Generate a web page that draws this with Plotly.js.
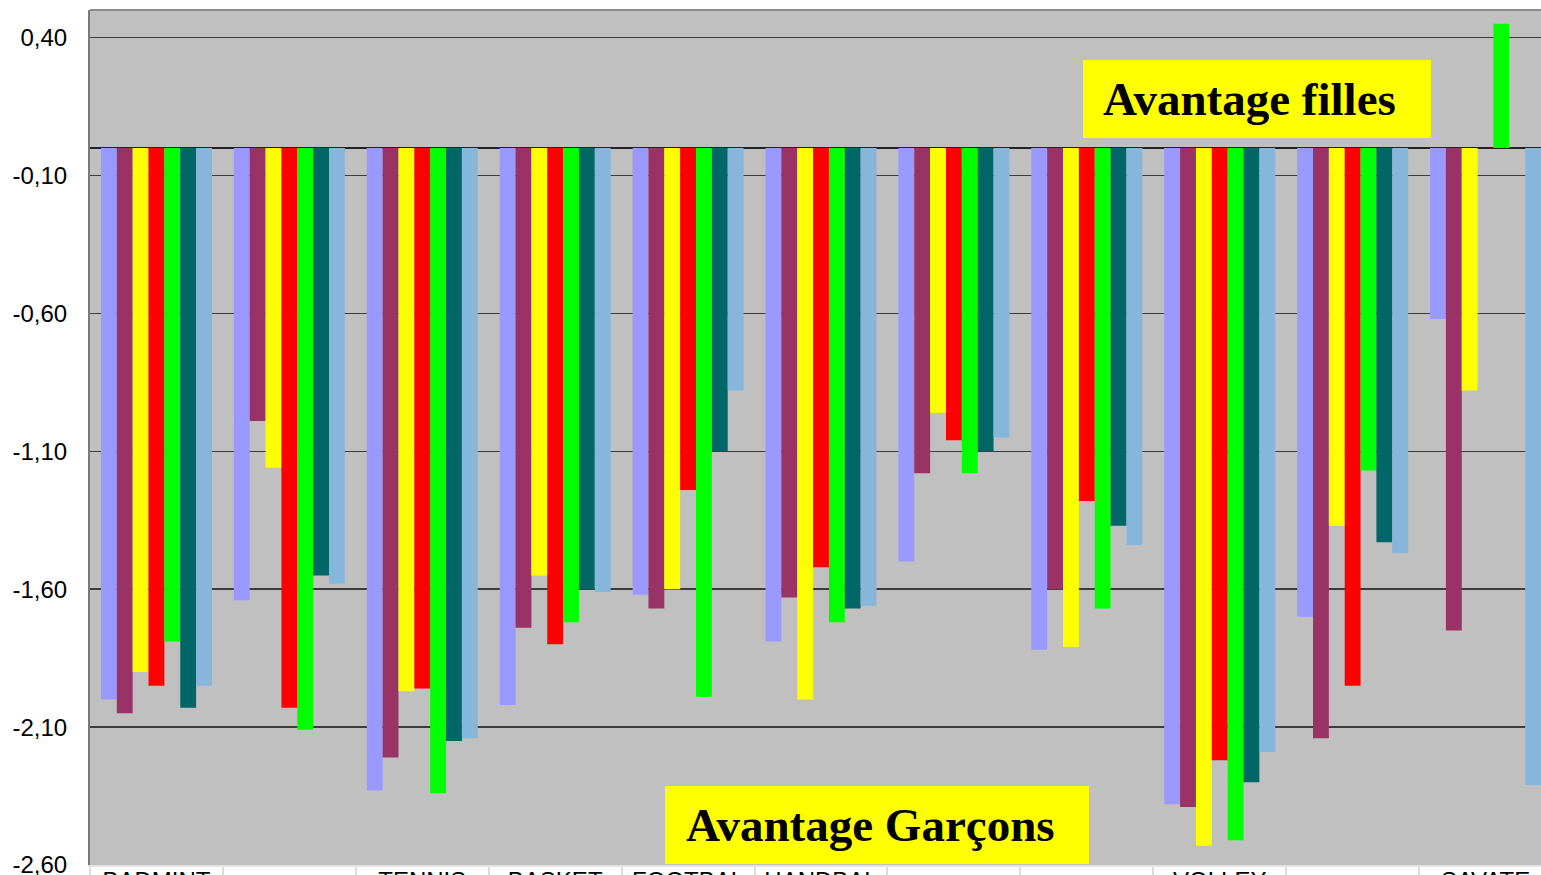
<!DOCTYPE html>
<html>
<head>
<meta charset="utf-8">
<script src="https://cdn.plot.ly/plotly-3.0.1.min.js"></script>
<style>
  html, body { margin: 0; padding: 0; overflow: hidden; background: #ffffff; width: 1541px; height: 875px; }
  #chart { width: 1600px; height: 900px; }
</style>
</head>
<body>
<div id="chart"></div>
<script>
// Category labels (only the first line is visible in the reference)
const categories = ["BADMINT", "", "TENNIS", "BASKET", "FOOTBAL", "HANDBAL", "", "", "VOLLEY", "", "SAVATE"];
const groupIndex = [0, 1, 2, 3, 4, 5, 6, 7, 8, 9, 10];

// Seven series (no legend in the reference)
const serie1 = [-2.00, -1.64, -2.33, -2.02, -1.62, -1.79, -1.50, -1.82, -2.38, -1.70, -0.62];
const serie2 = [-2.05, -0.99, -2.21, -1.74, -1.67, -1.63, -1.18, -1.60, -2.39, -2.14, -1.75];
const serie3 = [-1.90, -1.16, -1.97, -1.55, -1.60, -2.00, -0.96, -1.81, -2.53, -1.37, -0.88];
const serie4 = [-1.95, -2.03, -1.96, -1.80, -1.24, -1.52, -1.06, -1.28, -2.22, -1.95, null];
const serie5 = [-1.79, -2.11, -2.34, -1.72, -1.99, -1.72, -1.18, -1.67, -2.51, -1.17, 0.45];
const serie6 = [-2.03, -1.55, -2.15, -1.60, -1.10, -1.67, -1.10, -1.37, -2.30, -1.43, null];
const serie7 = [-1.95, -1.58, -2.14, -1.61, -0.88, -1.66, -1.05, -1.44, -2.19, -1.47, -2.31];

const seriesList = [serie1, serie2, serie3, serie4, serie5, serie6, serie7];
const seriesNames = ["Série 1", "Série 2", "Série 3", "Série 4", "Série 5", "Série 6", "Série 7"];
const colors = ["#9999FF", "#993366", "#FFFF00", "#FF0000", "#00FF00", "#006666", "#86B6DA"];

const yTicks = [0.40, -0.10, -0.60, -1.10, -1.60, -2.10, -2.60];
const yTickText = yTicks.map(v => v.toFixed(2).replace(".", ","));

const labelFilles = "Avantage filles";
const labelGarcons = "Avantage Garçons";

const traces = seriesList.map((vals, i) => ({
  type: "bar",
  name: seriesNames[i],
  x: groupIndex,
  y: vals,
  marker: { color: colors[i], line: { width: 0 } },
  hoverinfo: "x+y"
}));

const boxStyle = { type: "rect", xref: "paper", yref: "paper", layer: "above",
  fillcolor: "#FFFF00", line: { width: 0 } };

const layout = {
  width: 1600,
  height: 900,
  margin: { l: 90, r: 48, t: 10, b: 35 },
  paper_bgcolor: "#ffffff",
  plot_bgcolor: "#C0C0C0",
  showlegend: false,
  barmode: "group",
  bargap: 0.165,
  bargroupgap: 0,
  font: { family: "Liberation Sans, Arial, sans-serif", color: "#000000" },
  xaxis: {
    range: [-0.5, 10.5],
    tickvals: groupIndex,
    ticktext: categories,
    ticks: "",
    showgrid: false,
    zeroline: false,
    showline: true,
    linecolor: "#e4e4e4",
    linewidth: 2,
    tickfont: { size: 24, family: "Liberation Sans, Arial, sans-serif" },
    ticklabelstandoff: -7,
    minor: { tick0: 0.5, dtick: 1, ticks: "outside", ticklen: 20, tickcolor: "#dcdcdc", tickwidth: 2, showgrid: false }
  },
  yaxis: {
    range: [-2.6, 0.5],
    tickvals: yTicks,
    ticktext: yTickText,
    ticks: "",
    showgrid: true,
    gridcolor: "#3c3c3c",
    gridwidth: 1.5,
    zeroline: true,
    zerolinecolor: "#222222",
    zerolinewidth: 2,
    showline: true,
    linecolor: "#7a7a7a",
    linewidth: 2,
    tickfont: { size: 24, family: "Liberation Sans, Arial, sans-serif" },
    ticklabelstandoff: 16
  },
  shapes: [
    { type: "line", xref: "paper", yref: "paper", x0: 0, x1: 1, y0: 1, y1: 1,
      line: { color: "#8a8a8a", width: 2 } },
    Object.assign({}, boxStyle, { x0: 0.6792, x1: 0.9172, y0: 0.8503, y1: 0.9415 }),
    Object.assign({}, boxStyle, { x0: 0.3933, x1: 0.6833, y0: 0.0012, y1: 0.0924 })
  ],
  annotations: [
    {
      xref: "paper", yref: "paper", x: 0.6922, y: 0.8959,
      xanchor: "left", yanchor: "middle",
      text: "<b>" + labelFilles + "</b>",
      showarrow: false, borderpad: 0,
      font: { family: "Liberation Serif, Times New Roman, serif", size: 47, color: "#000000" }
    },
    {
      xref: "paper", yref: "paper", x: 0.4070, y: 0.0468,
      xanchor: "left", yanchor: "middle",
      text: "<b>" + labelGarcons + "</b>",
      showarrow: false, borderpad: 0,
      font: { family: "Liberation Serif, Times New Roman, serif", size: 47, color: "#000000" }
    }
  ]
};

Plotly.newPlot("chart", traces, layout, { displayModeBar: false, staticPlot: true });
</script>
</body>
</html>
